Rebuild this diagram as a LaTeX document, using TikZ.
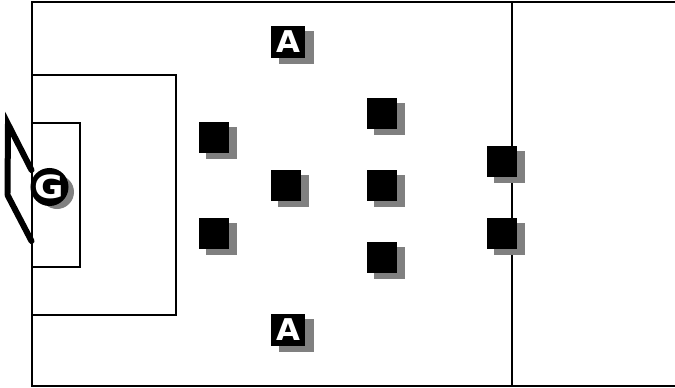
\documentclass[tikz,border=0pt]{standalone}
\usepackage{fontspec}
\setmainfont{DejaVu Sans}
\definecolor{shade}{gray}{0.5}
\tikzset{
  x=1pt,y=-1pt,
  fieldline/.style={draw=black,line width=2pt},
  goalline/.style={draw=black,line width=6pt,line cap=round},
  plr/.style={fill=black,draw=none,inner sep=0pt,minimum width=30pt,minimum height=31pt},
  plrshadow/.style={fill=shade,draw=none,inner sep=0pt,minimum width=31pt,minimum height=32pt},
  wing/.style={plr,minimum width=34.5pt,minimum height=32pt},
  wingshadow/.style={plrshadow,minimum width=35pt,minimum height=33pt},
  keeper/.style={circle,fill=black,draw=none,inner sep=0pt,minimum size=35pt},
  keepershadow/.style={circle,fill=shade,draw=none,inner sep=0pt,minimum size=34pt},
  lettera/.style={text=white,font=\fontsize{30}{30}\selectfont\bfseries},
  letterg/.style={text=white,font=\fontsize{32}{32}\selectfont\bfseries}
}
\newcommand{\wideletter}[2]{\scalebox{#1}[1]{#2}}
\begin{document}
\begin{tikzpicture}
\useasboundingbox (0,0) rectangle (675,388);
% pitch
\draw[fieldline] (675,2) -- (32,2) -- (32,386) -- (675,386);
\draw[fieldline] (512,2) -- (512,386);
\draw[fieldline] (32,75) -- (176,75) -- (176,315) -- (32,315);
\draw[fieldline] (32,123) -- (80,123) -- (80,267) -- (32,267);
% goal
\coordinate (g1) at (8,124);
\coordinate (g2) at (31.5,170);
\coordinate (g3) at (7.5,193);
\coordinate (g4) at (7.5,195);
\coordinate (g5) at (31.5,241);
\draw[goalline] (g2) -- (g1) -- (g3);
\draw[goalline] (g4) -- (g5);
% shadows
\node[keepershadow] (gs) at (57,192) {};
\foreach \n/\x/\y in {s1/221.5/142.5,s2/221.5/238.5,s3/293.5/190.5,s4/389.5/118.5,s5/389.5/190.5,s6/389.5/262.5,s7/509.5/167,s8/509.5/239}
  \node[plrshadow] (\n) at (\x,\y) {};
\node[wingshadow] (as1) at (296.5,47.5) {};
\node[wingshadow] (as2) at (296.5,335.5) {};
% players
\node[keeper,letterg] (G) at (49.5,187) {\wideletter{1.12}{G}};
\foreach \n/\x/\y in {p1/213.5/137.5,p2/213.5/233.5,p3/285.5/185.5,p4/381.5/113.5,p5/381.5/185.5,p6/381.5/257.5,p7/501.5/161,p8/501.5/233.5}
  \node[plr] (\n) at (\x,\y) {};
\node[wing,lettera] (A1) at (288,41.5) {\wideletter{1.03}{A}};
\node[wing,lettera] (A2) at (288,329.5) {\wideletter{1.03}{A}};
\end{tikzpicture}
\end{document}
